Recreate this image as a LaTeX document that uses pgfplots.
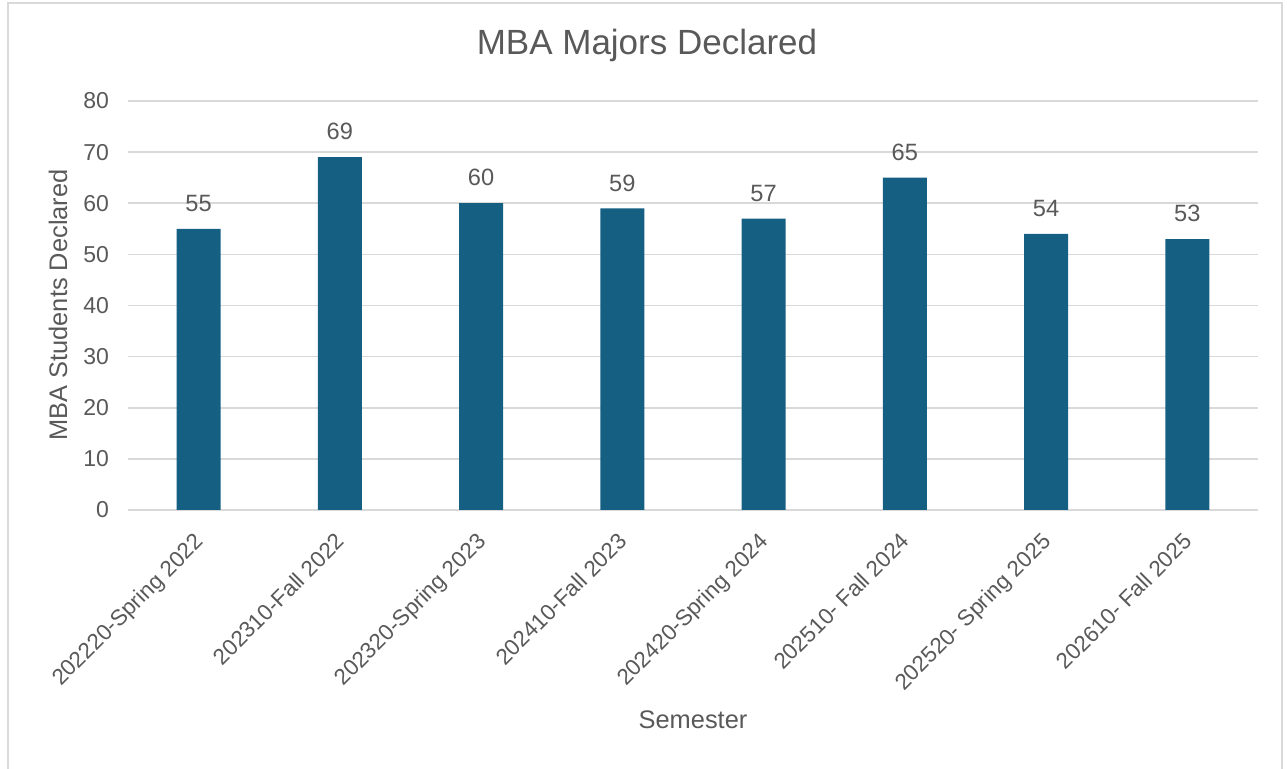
\documentclass[border=0pt]{standalone}
\usepackage{pgfplots}
\pgfplotsset{compat=1.18}
\usepackage{fontspec}
\setmainfont{Liberation Sans}
\definecolor{barc}{HTML}{156082}
\definecolor{txt}{HTML}{595959}
\definecolor{gridc}{HTML}{D9D9D9}
\begin{document}
\begin{tikzpicture}[x=1pt,y=1pt]
\useasboundingbox (-64,-129.5) rectangle (579.5,255);
\draw[gridc, line width=0.8pt] (-60,-130) -- (-60,253.5) -- (577,253.5) -- (577,-130);
\begin{axis}[
  at={(0,0)}, anchor=south west,
  scale only axis, width=565pt, height=204.5pt,
  xmin=-0.5, xmax=7.5, ymin=0, ymax=80,
  ytick={0,10,...,80},
  xtick={0,...,7},
  xticklabels={202220-Spring 2022,202310-Fall 2022,202320-Spring 2023,202410-Fall 2023,202420-Spring 2024,202510- Fall 2024,202520- Spring 2025,202610- Fall 2025},
  xticklabel style={rotate=45, anchor=north east, font=\fontsize{11.2}{13}\selectfont, text=txt, inner sep=0pt, yshift=-5.5pt, xshift=-9.4pt},
  yticklabel style={font=\fontsize{11.5}{13}\selectfont, text=txt, xshift=-6pt},
  /pgf/number format/assume math mode=true,
  ymajorgrids, grid style={gridc, line width=0.8pt},
  axis x line*=bottom,
  axis y line*=left,
  x axis line style={draw=gridc, line width=0.8pt, -},
  y axis line style={draw=none},
  major tick length=0pt,
  ytick style={draw=none}, xtick style={draw=none},
  ]
  \addplot[ybar, bar width=22pt, fill=barc, draw=none,
    nodes near coords, every node near coord/.append style={font=\fontsize{11.8}{13}\selectfont, text=txt, yshift=5pt}]
    coordinates {(0,55) (1,69) (2,60) (3,59) (4,57) (5,65) (6,54) (7,53)};
\end{axis}
\node[text=txt, font=\fontsize{17.5}{20}\selectfont] at (259.5,232.5) {MBA Majors Declared};
\node[text=txt, font=\fontsize{12.7}{15}\selectfont, rotate=90] at (-35,102.5) {MBA Students Declared};
\node[text=txt, font=\fontsize{12.7}{15}\selectfont] at (282.5,-105) {Semester};
\end{tikzpicture}
\end{document}
